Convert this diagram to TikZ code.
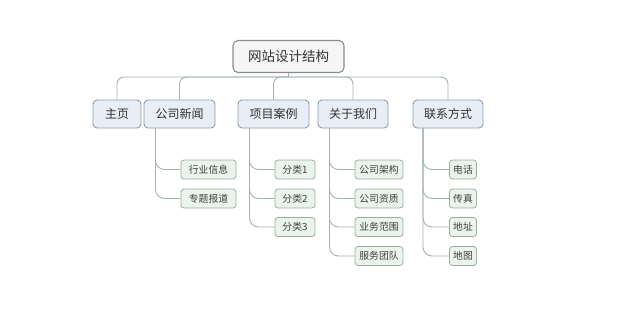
\documentclass[tikz,border=0pt]{standalone}
\usepackage{fontspec}
\newfontfamily\cjk{Noto Sans CJK SC}
\begin{document}
\begin{tikzpicture}[x=1pt,y=-1pt,
  rootbox/.style={draw=rootline,fill=rootfill,rounded corners=5pt,line width=1.1pt,minimum height=32pt,text width=111pt,align=center,inner sep=0pt,font=\cjk\fontsize{13.5}{14}\selectfont,text=black!80},
  topbox/.style={draw=topline,fill=topfill,rounded corners=4pt,line width=0.9pt,minimum height=28pt,inner sep=0pt,align=center,font=\cjk\fontsize{12}{13}\selectfont,text=black!80},
  leafbox/.style={draw=leafline,fill=leaffill,rounded corners=3pt,line width=0.8pt,minimum height=19pt,inner sep=0pt,align=center,font=\cjk\fontsize{9.8}{11}\selectfont,text=black!75},
  link/.style={draw=linkcol,line width=0.9pt,rounded corners=7pt}]
\definecolor{rootline}{HTML}{8C8C8C}
\definecolor{rootfill}{HTML}{F5F5F5}
\definecolor{topline}{HTML}{8E9EAC}
\definecolor{topfill}{HTML}{E7EEF6}
\definecolor{leafline}{HTML}{9DAE9F}
\definecolor{leaffill}{HTML}{EAF3EC}
\definecolor{linkcol}{HTML}{A3B2B6}
\useasboundingbox[fill=white] (0,0) rectangle (620,309);
% root
\node[rootbox] (root) at (288.5,56.5) {网站设计结构};
% level 1
\node[topbox,minimum width=48pt] (home) at (117,114) {主页};
\node[topbox,minimum width=71pt] (news) at (179.5,114) {公司新闻};
\node[topbox,minimum width=71pt] (cases) at (273.5,114) {项目案例};
\node[topbox,minimum width=70pt] (about) at (353,114) {关于我们};
\node[topbox,minimum width=70pt] (contact) at (448,114) {联系方式};
\coordinate (bus) at (288.5,77);
\draw[linkcol,line width=0.9pt] (root.south) -- (bus);
\foreach \n in {home,news,cases,about,contact}{
  \draw[link] (bus) -| (\n.north);
}
% leaves news
\node[leafbox,minimum width=55pt] (n1) at (208.5,169.5) {行业信息};
\node[leafbox,minimum width=55pt] (n2) at (208.5,198.5) {专题报道};
\coordinate (nv) at (155.5,128);
% leaves cases
\node[leafbox,minimum width=40pt] (c1) at (295,169.5) {分类1};
\node[leafbox,minimum width=40pt] (c2) at (295,198.5) {分类2};
\node[leafbox,minimum width=40pt] (c3) at (295,227) {分类3};
\coordinate (cv) at (249.5,128);
% leaves about
\node[leafbox,minimum width=48pt] (a1) at (379,169.5) {公司架构};
\node[leafbox,minimum width=48pt] (a2) at (379,198.5) {公司资质};
\node[leafbox,minimum width=48pt] (a3) at (379,227) {业务范围};
\node[leafbox,minimum width=48pt] (a4) at (379,256) {服务团队};
\coordinate (av) at (329.5,128);
% leaves contact
\node[leafbox,minimum width=27pt] (k1) at (463,169.5) {电话};
\node[leafbox,minimum width=27pt] (k2) at (463,198.5) {传真};
\node[leafbox,minimum width=27pt] (k3) at (463,227) {地址};
\node[leafbox,minimum width=27pt] (k4) at (463,256) {地图};
\coordinate (kv) at (423,128);
\foreach \v/\l in {nv/n1,nv/n2,cv/c1,cv/c2,cv/c3,av/a1,av/a2,av/a3,av/a4,kv/k1,kv/k2,kv/k3,kv/k4}{
  \draw[link,rounded corners=9pt] (\v) |- (\l.west);
}
\end{tikzpicture}
\end{document}
